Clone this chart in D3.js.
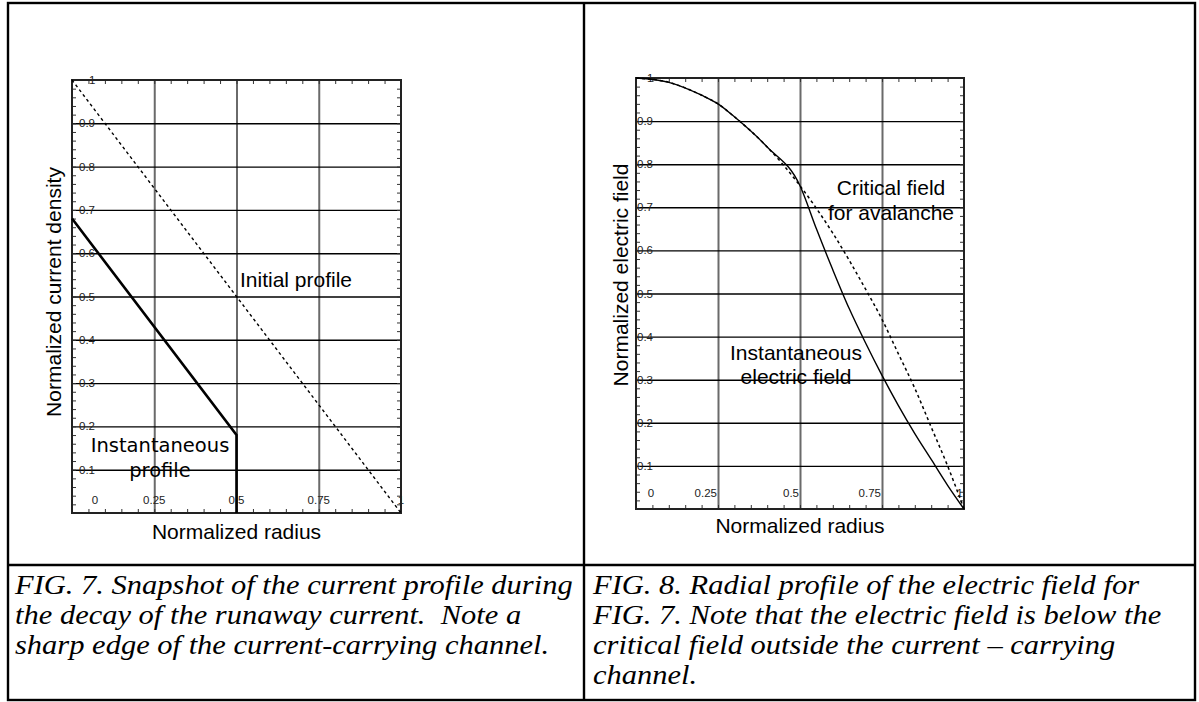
<!DOCTYPE html>
<html>
<head>
<meta charset="utf-8">
<script src="https://cdn.jsdelivr.net/npm/d3@7"></script>
<style>
	body { margin: 0; background: #fff; }
	svg { display: block; }
	.tick-label { font-family: "Liberation Sans", Arial, sans-serif; font-size: 11.5px; fill: #222; }
	.axis-title { font-family: "Liberation Sans", Arial, sans-serif; font-size: 21px; fill: #000; }
	.note { font-family: "Liberation Sans", Arial, sans-serif; font-size: 21px; fill: #000; }
	.note-wide { font-family: "DejaVu Sans", Verdana, sans-serif; font-size: 19.5px; fill: #000; }
	.caption { font-family: "Liberation Serif", "Times New Roman", serif; font-style: italic; font-size: 27px; fill: #000; white-space: pre; }
</style>
</head>
<body>
<svg id="fig" width="1199" height="702"></svg>
<script>
	//  tick values and labels (shared by both panels)
	var xTicks = [0, 0.25, 0.5, 0.75, 1];
	var xTickLabels = ["0", "0.25", "0.5", "0.75", "1"];
	var yTicks = [0.1, 0.2, 0.3, 0.4, 0.5, 0.6, 0.7, 0.8, 0.9, 1];
	var yTickLabels = ["0.1", "0.2", "0.3", "0.4", "0.5", "0.6", "0.7", "0.8", "0.9", "1"];
	var xGrid = [0.25, 0.5, 0.75];
	var yGrid = [0.1, 0.2, 0.3, 0.4, 0.5, 0.6, 0.7, 0.8, 0.9];

	//  FIG. 7 : current density
	var initialR = [0, 1];
	var initialJ = [1, 0];
	var instantR = [0, 0.5, 0.5];
	var instantJ = [0.68, 0.18, 0];

	//  FIG. 8 : electric field
	var criticalR = [0, 0.1, 0.2, 0.25, 0.3, 0.4, 0.5, 0.6, 0.7, 0.75, 0.8, 0.85, 0.9, 0.95, 1];
	var criticalE = [1, 0.99, 0.96, 0.94, 0.91, 0.84, 0.75, 0.64, 0.51, 0.44, 0.36, 0.28, 0.19, 0.1, 0];
	var fieldR = [0, 0.1, 0.2, 0.25, 0.3, 0.4, 0.5, 0.55, 0.6, 0.65, 0.7, 0.75, 0.8, 0.85, 0.9, 0.95, 1];
	var fieldE = [1, 0.99, 0.96, 0.94, 0.91, 0.84, 0.75, 0.65, 0.555, 0.465, 0.385, 0.31, 0.24, 0.175, 0.115, 0.055, 0];

	var captionLeft = [
		"FIG. 7. Snapshot of the current profile during",
		"the decay of the runaway current.  Note a",
		"sharp edge of the current-carrying channel."
	];
	var captionRight = [
		"FIG. 8. Radial profile of the electric field for",
		"FIG. 7. Note that the electric field is below the",
		"critical field outside the current \u2013 carrying",
		"channel."
	];

	var svg = d3.select("#fig");

	//  table frame
	var table = {left: 8, top: 3, right: 1195, bottom: 700, split: 584, row: 565};
	var frame = svg.append("g").attr("stroke", "#000").attr("stroke-width", 2.4).attr("fill", "none");
	frame.append("rect")
		.attr("x", table.left).attr("y", table.top)
		.attr("width", table.right - table.left).attr("height", table.bottom - table.top);
	frame.append("line")
		.attr("x1", table.split).attr("x2", table.split)
		.attr("y1", table.top).attr("y2", table.bottom);
	frame.append("line")
		.attr("x1", table.left).attr("x2", table.right)
		.attr("y1", table.row).attr("y2", table.row);

	function drawPanel(p) {
		var x = d3.scaleLinear().domain([0, 1]).range([p.x0, p.x1]);
		var y = d3.scaleLinear().domain([0, 1]).range([p.y1, p.y0]);
		var w = p.x1 - p.x0, h = p.y1 - p.y0;
		var g = svg.append("g");

		//  grid
		var gx = g.append("g")
			.attr("transform", "translate(0," + p.y1 + ")")
			.call(d3.axisBottom(x).tickValues(xGrid).tickSize(-h).tickFormat(""));
		gx.select(".domain").remove();
		gx.selectAll("line").attr("stroke", "#6a6a6a").attr("stroke-width", 2);
		var gy = g.append("g")
			.attr("transform", "translate(" + p.x0 + ",0)")
			.call(d3.axisLeft(y).tickValues(yGrid).tickSize(-w).tickFormat(""));
		gy.select(".domain").remove();
		gy.selectAll("line").attr("stroke", "#000").attr("stroke-width", 1.4);

		//  minor ticks on all four edges
		var mx = d3.range(0, 1.0001, 0.05), my = d3.range(0, 1.0001, 0.02);
		[
			[d3.axisBottom(x).tickValues(mx), "translate(0," + p.y1 + ")"],
			[d3.axisTop(x).tickValues(mx), "translate(0," + p.y0 + ")"],
			[d3.axisLeft(y).tickValues(my), "translate(" + p.x0 + ",0)"],
			[d3.axisRight(y).tickValues(my), "translate(" + p.x1 + ",0)"]
		].forEach(function(a) {
			var t = g.append("g").attr("transform", a[1])
				.call(a[0].tickSize(-4).tickFormat(""));
			t.select(".domain").remove();
			t.selectAll("line").attr("stroke", "#333").attr("stroke-width", 1);
		});

		//  plot frame
		g.append("rect")
			.attr("x", p.x0).attr("y", p.y0).attr("width", w).attr("height", h)
			.attr("fill", "none").attr("stroke", "#222").attr("stroke-width", 2);

		//  tick labels inside the frame
		g.selectAll(".ylab").data(yTicks).enter().append("text")
			.attr("class", "tick-label")
			.attr("x", function(d) { return p.x0 + p.yLabelDx + (d === 1 ? p.oneDx : 0); })
			.attr("y", function(d) { return y(d) + 4; })
			.attr("text-anchor", "start")
			.text(function(d, i) { return yTickLabels[i]; });
		g.selectAll(".xlab").data(xTicks).enter().append("text")
			.attr("class", "tick-label")
			.attr("x", function(d) { return d === 0 ? p.x0 + p.zeroDx : x(d) + p.xLabelDx; })
			.attr("y", p.y1 + p.xLabelDy)
			.attr("text-anchor", function(d) { return d === 0 ? "middle" : p.xLabelAnchor; })
			.text(function(d, i) { return xTickLabels[i]; });

		//  axis titles
		g.append("text")
			.attr("class", "axis-title")
			.attr("x", (p.x0 + p.x1) / 2)
			.attr("y", p.y1 + p.titleDy)
			.attr("text-anchor", "middle")
			.text(p.xTitle);
		g.append("text")
			.attr("class", "axis-title")
			.attr("transform", "translate(" + (p.x0 + p.yTitleDx) + "," + p.yTitleY + ") rotate(-90)")
			.attr("text-anchor", "middle")
			.text(p.yTitle);

		//  curves
		var line = d3.line()
			.x(function(d) { return x(d[0]); })
			.y(function(d) { return y(d[1]); });
		p.series.forEach(function(s) {
			g.append("path")
				.datum(d3.zip(s.r, s.v))
				.attr("fill", "none")
				.attr("stroke", "#000")
				.attr("stroke-width", s.width)
				.attr("stroke-dasharray", s.dash || null)
				.attr("stroke-linejoin", "miter")
				.attr("d", line.curve(s.curve || d3.curveLinear));
		});

		//  annotations
		p.notes.forEach(function(n) {
			var t = g.append("text")
				.attr("class", n.cls)
				.attr("text-anchor", "middle");
			n.lines.forEach(function(l, i) {
				t.append("tspan")
					.attr("x", n.x)
					.attr("y", n.y + i * n.lh)
					.text(l);
			});
		});
	}

	drawPanel({
		x0: 72, x1: 401, y0: 80, y1: 513,
		yLabelDx: 7, oneDx: 10, zeroDx: 23,
		xLabelDx: 0, xLabelDy: -9, xLabelAnchor: "middle",
		xTitle: "Normalized radius", titleDy: 26,
		yTitle: "Normalized current density", yTitleDx: -11, yTitleY: 292,
		series: [
			{r: initialR, v: initialJ, width: 1.4, dash: "3,3"},
			{r: instantR, v: instantJ, width: 2.6}
		],
		notes: [
			{cls: "note", x: 296, y: 287, lh: 25, lines: ["Initial profile"]},
			{cls: "note-wide", x: 160, y: 452, lh: 25, lines: ["Instantaneous", "profile"]}
		]
	});

	drawPanel({
		x0: 636, x1: 964, y0: 78, y1: 509,
		yLabelDx: 1, oneDx: 10, zeroDx: 15,
		xLabelDx: -1, xLabelDy: -12, xLabelAnchor: "end",
		xTitle: "Normalized radius", titleDy: 24,
		yTitle: "Normalized electric field", yTitleDx: -8, yTitleY: 275,
		series: [
			{r: criticalR, v: criticalE, width: 1.5, dash: "3,3", curve: d3.curveMonotoneX},
			{r: fieldR, v: fieldE, width: 1.4, curve: d3.curveMonotoneX}
		],
		notes: [
			{cls: "note", x: 891, y: 195, lh: 25, lines: ["Critical field", "for avalanche"]},
			{cls: "note", x: 796, y: 360, lh: 24, lines: ["Instantaneous", "electric field"]}
		]
	});

	//  captions: the printed serif is wider than its height, so stretch it horizontally
	function drawCaption(lines, x0) {
		var t = svg.append("text")
			.attr("class", "caption")
			.attr("transform", "translate(" + x0 + ",0) scale(1.13,1)");
		lines.forEach(function(l, i) {
			t.append("tspan").attr("x", 0).attr("y", 594 + i * 30).text(l);
		});
	}
	drawCaption(captionLeft, 15);
	drawCaption(captionRight, 593);
</script>
</body>
</html>
